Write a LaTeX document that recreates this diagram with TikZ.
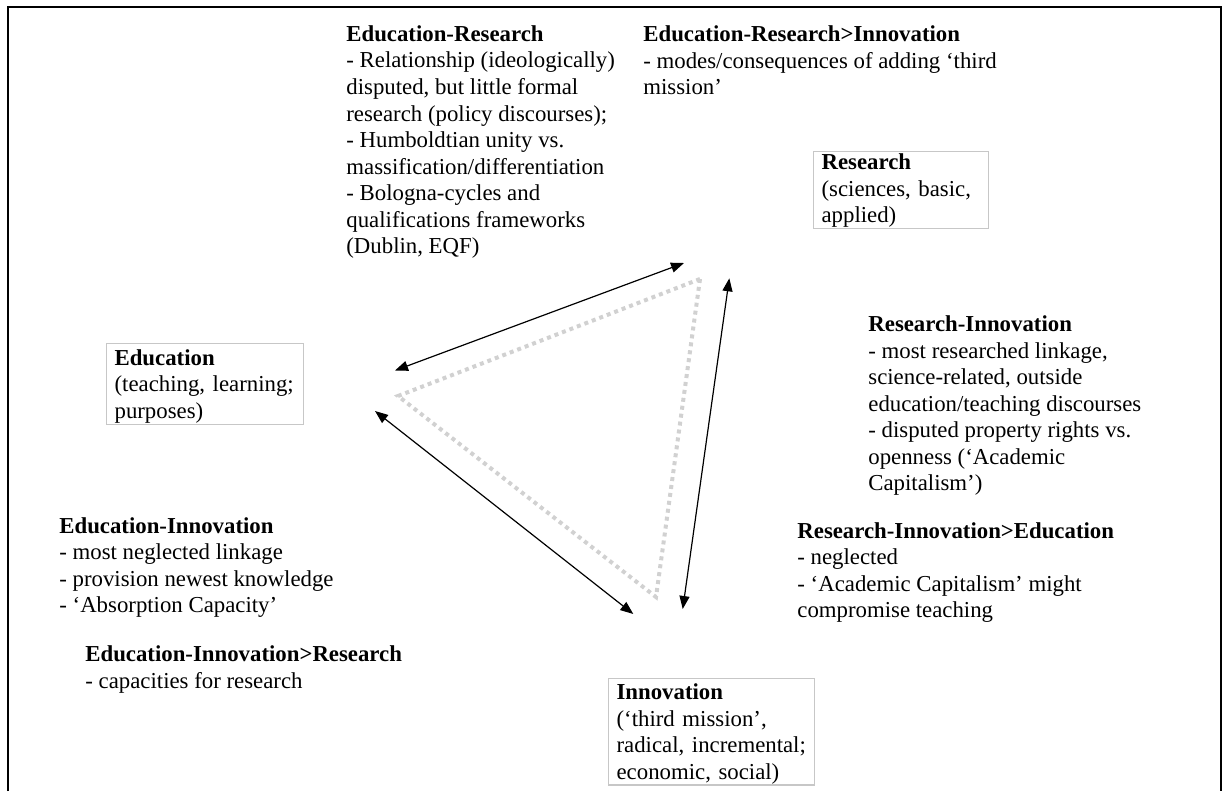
\documentclass[tikz,border=0pt]{standalone}
\usepackage{fontspec}
\setmainfont{Liberation Serif}
\usetikzlibrary{arrows.meta}
\tikzset{
  txt/.style={anchor=north west, inner sep=0pt, align=left, font=\fontsize{11.4}{13.27}\selectfont},
  boxed/.style={anchor=north west, draw=black!22, line width=0.6pt, inner xsep=4pt, inner ysep=0.5pt, align=left, font=\fontsize{11.4}{13.27}\selectfont},
  link/.style={line width=0.6pt, {Triangle[length=6.5pt,width=5pt]}-{Triangle[length=6.5pt,width=5pt]}},
  tri/.style={draw=black!18, line width=2pt, dash pattern=on 2pt off 2pt},
  frame/.style={line width=1pt}
}
\newcommand{\topstrut}[1]{\rule{0pt}{#1}}
\begin{document}
\begin{tikzpicture}[x=0.5pt,y=-0.5pt]
\useasboundingbox (0,0) rectangle (1229,791);
\draw[frame] (8,791) -- (8,7.5) -- (1221,7.5) -- (1221,791);

% text blocks
\node[txt] (er) at (346,25.2) {\textbf{Education-Research}\\- Relationship (ideologically)\\disputed, but little formal\\research (policy discourses);\\- Humboldtian unity vs.\\massification/differentiation\\- Bologna-cycles and\\qualifications frameworks\\(Dublin, EQF)};
\node[txt] (eri) at (643,25.5) {\textbf{Education-Research>Innovation}\\- modes/consequences of adding ‘third\\mission’};
\node[txt] (ri) at (868,315.5) {\textbf{Research-Innovation}\\- most researched linkage,\\science-related, outside\\education/teaching discourses\\- disputed property rights vs.\\openness (‘Academic\\Capitalism’)};
\node[txt] (rie) at (797,522) {\textbf{Research-Innovation>Education}\\- neglected\\- ‘Academic Capitalism’ might\\compromise teaching};
\node[txt] (ei) at (59,517) {\textbf{Education-Innovation}\\- most neglected linkage\\- provision newest knowledge\\- ‘Absorption Capacity’};
\node[txt] (eir) at (85,645.5) {\textbf{Education-Innovation>Research}\\- capacities for research};

% boxes
\node[boxed, text width=79.5pt] (research) at (813,151) {\topstrut{8.5pt}\textbf{Research}\\(sciences, basic,\\applied)};
\node[boxed, text width=90.5pt] (education) at (106,343) {\topstrut{10.3pt}\textbf{Education}\\(teaching, learning;\\purposes)};
\node[boxed, text width=95pt] (innovation) at (608,678) {\topstrut{10pt}\textbf{Innovation}\\(‘third mission’,\\radical, incremental;\\economic, social)};

% dotted triangle
\coordinate (tR) at (700,279);
\coordinate (tE) at (398,396);
\coordinate (tI) at (656,597);
\draw[tri] (tR) -- (tE) -- (tI) -- cycle;

% arrows
\coordinate (a1r) at (684,263);
\coordinate (a1e) at (395,370.5);
\coordinate (a2r) at (729.3,278.3);
\coordinate (a2i) at (682.7,609);
\coordinate (a3e) at (375,411);
\coordinate (a3i) at (633.3,614);
\draw[link] (a1e) -- (a1r);
\draw[link] (a2r) -- (a2i);
\draw[link] (a3e) -- (a3i);
\end{tikzpicture}
\end{document}
